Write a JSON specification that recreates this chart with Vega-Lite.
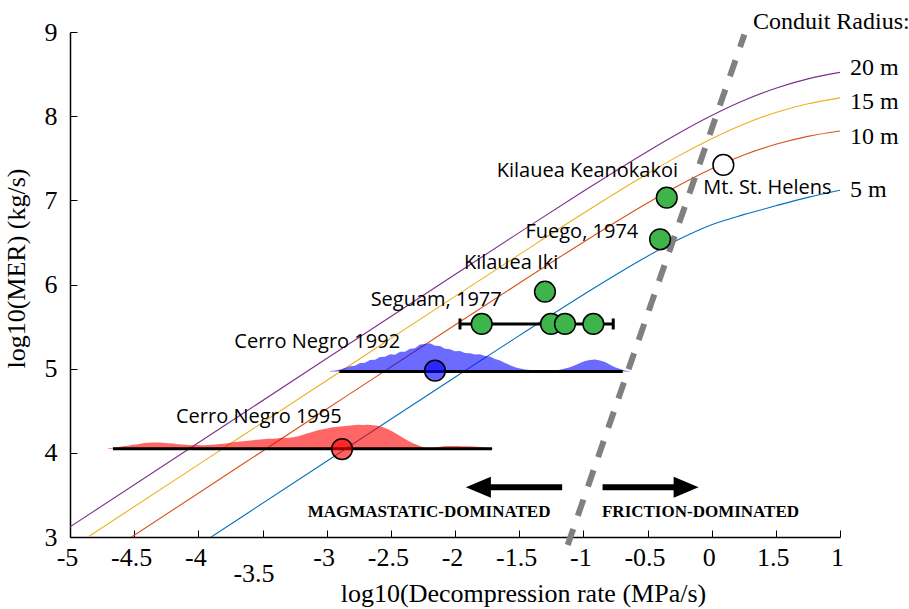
{
  "$schema": "https://vega.github.io/schema/vega-lite/v6.json",
  "width": 770,
  "height": 505,
  "autosize": {"type": "none"},
  "padding": {"left": 70, "top": 32, "right": 69, "bottom": 72},
  "background": "white",
  "config": {
    "view": {"stroke": null},
    "axis": {
      "grid": false,
      "domainColor": "black",
      "domainWidth": 1.5,
      "tickColor": "black",
      "tickWidth": 1,
      "labelColor": "black",
      "titleColor": "black",
      "labelFont": "Liberation Serif",
      "titleFont": "Liberation Serif",
      "labelFontSize": 26,
      "titleFontSize": 26,
      "titleFontWeight": "normal"
    }
  },
  "resolve": {"scale": {"color": "independent"}},
  "datasets": {
    "curves": [
      {"rate": -5.2, "mer": 2.92, "radius": "20 m"}, {"rate": -4, "mer": 4.12, "radius": "20 m"}, {"rate": -3, "mer": 5.12, "radius": "20 m"}, {"rate": -2, "mer": 6.119, "radius": "20 m"}, {"rate": -1.5, "mer": 6.616, "radius": "20 m"}, {"rate": -1, "mer": 7.107, "radius": "20 m"}, {"rate": -0.5, "mer": 7.581, "radius": "20 m"}, {"rate": -0.25, "mer": 7.803, "radius": "20 m"}, {"rate": 0, "mer": 8.007, "radius": "20 m"}, {"rate": 0.25, "mer": 8.185, "radius": "20 m"}, {"rate": 0.5, "mer": 8.332, "radius": "20 m"}, {"rate": 0.75, "mer": 8.443, "radius": "20 m"}, {"rate": 1, "mer": 8.52, "radius": "20 m"},
      {"rate": -5.2, "mer": 2.66, "radius": "15 m"}, {"rate": -4, "mer": 3.86, "radius": "15 m"}, {"rate": -3, "mer": 4.86, "radius": "15 m"}, {"rate": -2, "mer": 5.859, "radius": "15 m"}, {"rate": -1.5, "mer": 6.355, "radius": "15 m"}, {"rate": -1, "mer": 6.846, "radius": "15 m"}, {"rate": -0.5, "mer": 7.316, "radius": "15 m"}, {"rate": -0.25, "mer": 7.534, "radius": "15 m"}, {"rate": 0, "mer": 7.733, "radius": "15 m"}, {"rate": 0.25, "mer": 7.905, "radius": "15 m"}, {"rate": 0.5, "mer": 8.044, "radius": "15 m"}, {"rate": 0.75, "mer": 8.147, "radius": "15 m"}, {"rate": 1, "mer": 8.218, "radius": "15 m"},
      {"rate": -5.2, "mer": 2.32, "radius": "10 m"}, {"rate": -4, "mer": 3.52, "radius": "10 m"}, {"rate": -3, "mer": 4.52, "radius": "10 m"}, {"rate": -2, "mer": 5.518, "radius": "10 m"}, {"rate": -1.5, "mer": 6.015, "radius": "10 m"}, {"rate": -1, "mer": 6.503, "radius": "10 m"}, {"rate": -0.5, "mer": 6.968, "radius": "10 m"}, {"rate": -0.25, "mer": 7.182, "radius": "10 m"}, {"rate": 0, "mer": 7.375, "radius": "10 m"}, {"rate": 0.25, "mer": 7.538, "radius": "10 m"}, {"rate": 0.5, "mer": 7.666, "radius": "10 m"}, {"rate": 0.75, "mer": 7.76, "radius": "10 m"}, {"rate": 1, "mer": 7.823, "radius": "10 m"},
      {"rate": -5.2, "mer": 1.7, "radius": "5 m"}, {"rate": -4, "mer": 2.9, "radius": "5 m"}, {"rate": -3, "mer": 3.9, "radius": "5 m"}, {"rate": -2, "mer": 4.898, "radius": "5 m"}, {"rate": -1.5, "mer": 5.393, "radius": "5 m"}, {"rate": -1, "mer": 5.879, "radius": "5 m"}, {"rate": -0.5, "mer": 6.336, "radius": "5 m"}, {"rate": -0.25, "mer": 6.54, "radius": "5 m"}, {"rate": 0, "mer": 6.71, "radius": "5 m"}, {"rate": 0.25, "mer": 6.83, "radius": "5 m"}, {"rate": 0.5, "mer": 6.935, "radius": "5 m"}, {"rate": 0.75, "mer": 7.035, "radius": "5 m"}, {"rate": 1, "mer": 7.12, "radius": "5 m"}
    ],
    "boundary": [
      {"rate": -1.122, "mer": 2.905},
      {"rate": 0.255, "mer": 8.97}
    ],
    "hist1995": [
      {"rate": -4.704, "mer": 4.053}, {"rate": -4.665, "mer": 4.061}, {"rate": -4.626, "mer": 4.067}, {"rate": -4.587, "mer": 4.079}, {"rate": -4.548, "mer": 4.085}, {"rate": -4.509, "mer": 4.097}, {"rate": -4.47, "mer": 4.102}, {"rate": -4.431, "mer": 4.114}, {"rate": -4.392, "mer": 4.12}, {"rate": -4.353, "mer": 4.124}, {"rate": -4.314, "mer": 4.122}, {"rate": -4.275, "mer": 4.12}, {"rate": -4.236, "mer": 4.114}, {"rate": -4.197, "mer": 4.11}, {"rate": -4.158, "mer": 4.102}, {"rate": -4.12, "mer": 4.098}, {"rate": -4.081, "mer": 4.094}, {"rate": -4.042, "mer": 4.09}, {"rate": -4.003, "mer": 4.092}, {"rate": -3.964, "mer": 4.09}, {"rate": -3.925, "mer": 4.094}, {"rate": -3.886, "mer": 4.097}, {"rate": -3.847, "mer": 4.102}, {"rate": -3.808, "mer": 4.108}, {"rate": -3.769, "mer": 4.114}, {"rate": -3.73, "mer": 4.126}, {"rate": -3.691, "mer": 4.132}, {"rate": -3.652, "mer": 4.138}, {"rate": -3.613, "mer": 4.144}, {"rate": -3.574, "mer": 4.15}, {"rate": -3.535, "mer": 4.156}, {"rate": -3.496, "mer": 4.162}, {"rate": -3.457, "mer": 4.168}, {"rate": -3.418, "mer": 4.166}, {"rate": -3.379, "mer": 4.174}, {"rate": -3.34, "mer": 4.18}, {"rate": -3.301, "mer": 4.176}, {"rate": -3.262, "mer": 4.186}, {"rate": -3.223, "mer": 4.198}, {"rate": -3.184, "mer": 4.215}, {"rate": -3.146, "mer": 4.233}, {"rate": -3.107, "mer": 4.251}, {"rate": -3.068, "mer": 4.269}, {"rate": -3.029, "mer": 4.281}, {"rate": -2.99, "mer": 4.293}, {"rate": -2.951, "mer": 4.304}, {"rate": -2.912, "mer": 4.31}, {"rate": -2.873, "mer": 4.316}, {"rate": -2.834, "mer": 4.322}, {"rate": -2.795, "mer": 4.328}, {"rate": -2.756, "mer": 4.334}, {"rate": -2.717, "mer": 4.331}, {"rate": -2.678, "mer": 4.334}, {"rate": -2.639, "mer": 4.328}, {"rate": -2.6, "mer": 4.322}, {"rate": -2.561, "mer": 4.304}, {"rate": -2.522, "mer": 4.281}, {"rate": -2.483, "mer": 4.251}, {"rate": -2.444, "mer": 4.215}, {"rate": -2.405, "mer": 4.18}, {"rate": -2.366, "mer": 4.144}, {"rate": -2.327, "mer": 4.114}, {"rate": -2.288, "mer": 4.091}, {"rate": -2.249, "mer": 4.067}, {"rate": -2.21, "mer": 4.061}, {"rate": -2.171, "mer": 4.061}, {"rate": -2.132, "mer": 4.067}, {"rate": -2.093, "mer": 4.079}, {"rate": -2.054, "mer": 4.081}, {"rate": -2.015, "mer": 4.081}, {"rate": -1.976, "mer": 4.081}, {"rate": -1.937, "mer": 4.079}, {"rate": -1.898, "mer": 4.079}, {"rate": -1.859, "mer": 4.075}, {"rate": -1.82, "mer": 4.073}, {"rate": -1.781, "mer": 4.067}, {"rate": -1.742, "mer": 4.061}, {"rate": -1.703, "mer": 4.055}
    ],
    "hist1992": [
      {"rate": -2.974, "mer": 4.971}, {"rate": -2.935, "mer": 4.977}, {"rate": -2.896, "mer": 4.989}, {"rate": -2.857, "mer": 5.007}, {"rate": -2.818, "mer": 5.03}, {"rate": -2.779, "mer": 5.036}, {"rate": -2.74, "mer": 5.068}, {"rate": -2.701, "mer": 5.07}, {"rate": -2.662, "mer": 5.104}, {"rate": -2.623, "mer": 5.106}, {"rate": -2.584, "mer": 5.14}, {"rate": -2.545, "mer": 5.141}, {"rate": -2.506, "mer": 5.17}, {"rate": -2.467, "mer": 5.165}, {"rate": -2.428, "mer": 5.2}, {"rate": -2.39, "mer": 5.2}, {"rate": -2.351, "mer": 5.236}, {"rate": -2.312, "mer": 5.244}, {"rate": -2.273, "mer": 5.288}, {"rate": -2.234, "mer": 5.292}, {"rate": -2.195, "mer": 5.302}, {"rate": -2.156, "mer": 5.272}, {"rate": -2.117, "mer": 5.268}, {"rate": -2.078, "mer": 5.238}, {"rate": -2.039, "mer": 5.232}, {"rate": -2.0, "mer": 5.208}, {"rate": -1.961, "mer": 5.21}, {"rate": -1.922, "mer": 5.186}, {"rate": -1.883, "mer": 5.184}, {"rate": -1.844, "mer": 5.168}, {"rate": -1.805, "mer": 5.172}, {"rate": -1.766, "mer": 5.15}, {"rate": -1.727, "mer": 5.146}, {"rate": -1.688, "mer": 5.116}, {"rate": -1.649, "mer": 5.096}, {"rate": -1.61, "mer": 5.066}, {"rate": -1.571, "mer": 5.042}, {"rate": -1.532, "mer": 5.018}, {"rate": -1.493, "mer": 5.001}, {"rate": -1.454, "mer": 4.989}, {"rate": -1.415, "mer": 4.983}, {"rate": -1.376, "mer": 4.979}, {"rate": -1.337, "mer": 4.977}, {"rate": -1.298, "mer": 4.977}, {"rate": -1.259, "mer": 4.977}, {"rate": -1.221, "mer": 4.979}, {"rate": -1.182, "mer": 4.986}, {"rate": -1.143, "mer": 5.001}, {"rate": -1.104, "mer": 5.018}, {"rate": -1.065, "mer": 5.042}, {"rate": -1.026, "mer": 5.066}, {"rate": -0.987, "mer": 5.09}, {"rate": -0.948, "mer": 5.102}, {"rate": -0.909, "mer": 5.108}, {"rate": -0.87, "mer": 5.096}, {"rate": -0.831, "mer": 5.078}, {"rate": -0.792, "mer": 5.048}, {"rate": -0.753, "mer": 5.018}, {"rate": -0.714, "mer": 4.995}, {"rate": -0.675, "mer": 4.979}, {"rate": -0.636, "mer": 4.969}
    ],
    "ranges": [
      {"event": "Cerro Negro 1995", "rate": -4.665, "rate_end": -1.712, "mer": 4.049},
      {"event": "Cerro Negro 1992", "rate": -2.901, "rate_end": -0.693, "mer": 4.965},
      {"event": "Seguam, 1977", "rate": -1.961, "rate_end": -0.767, "mer": 5.531}
    ],
    "caps": [
      {"rate": -1.961, "mer": 5.531},
      {"rate": -0.767, "mer": 5.531}
    ],
    "cerroNegro": [
      {"event": "Cerro Negro 1995", "rate": -2.88, "mer": 4.045},
      {"event": "Cerro Negro 1992", "rate": -2.156, "mer": 4.976}
    ],
    "events": [
      {"event": "Seguam, 1977", "series": "basaltic", "rate": -1.792, "mer": 5.531},
      {"event": "Seguam, 1977", "series": "basaltic", "rate": -1.252, "mer": 5.531},
      {"event": "Seguam, 1977", "series": "basaltic", "rate": -1.143, "mer": 5.531},
      {"event": "Seguam, 1977", "series": "basaltic", "rate": -0.922, "mer": 5.531},
      {"event": "Kilauea Iki", "series": "basaltic", "rate": -1.299, "mer": 5.914},
      {"event": "Fuego, 1974", "series": "basaltic", "rate": -0.402, "mer": 6.537},
      {"event": "Kilauea Keanokakoi", "series": "basaltic", "rate": -0.35, "mer": 7.031},
      {"event": "Mt. St. Helens", "series": "Mt. St. Helens", "rate": 0.091, "mer": 7.42}
    ],
    "shafts": [
      {"regime": "magmastatic", "rate": -1.165, "rate_end": -1.8, "mer": 3.59},
      {"regime": "friction", "rate": -0.85, "rate_end": -0.22, "mer": 3.59}
    ],
    "heads": [
      {"regime": "magmastatic", "dir": "left", "rate": -1.818, "mer": 3.59},
      {"regime": "friction", "dir": "right", "rate": -0.199, "mer": 3.59}
    ],
    "eventLabelsRight": [
      {"label": "Kilauea Keanokakoi", "rate": -0.262, "mer": 7.348},
      {"label": "Fuego, 1974", "rate": -0.572, "mer": 6.624},
      {"label": "Kilauea Iki", "rate": -1.195, "mer": 6.255},
      {"label": "Seguam, 1977", "rate": -1.636, "mer": 5.81},
      {"label": "Cerro Negro 1992", "rate": -2.428, "mer": 5.32},
      {"label": "Cerro Negro 1995", "rate": -2.883, "mer": 4.43}
    ],
    "eventLabelsLeft": [
      {"label": "Mt. St. Helens", "rate": -0.065, "mer": 7.143}
    ],
    "radiusLabels": [
      {"label": "Conduit Radius:", "rate": 0.322, "mer": 9.122},
      {"label": "20 m", "rate": 1.078, "mer": 8.568},
      {"label": "15 m", "rate": 1.078, "mer": 8.172},
      {"label": "10 m", "rate": 1.078, "mer": 7.756},
      {"label": "5 m", "rate": 1.078, "mer": 7.123}
    ],
    "regimeLabels": [
      {"label": "MAGMASTATIC-DOMINATED", "rate": -2.202, "mer": 3.3},
      {"label": "FRICTION-DOMINATED", "rate": -0.087, "mer": 3.3}
    ]
  },
  "encoding": {
    "x": {
      "field": "rate",
      "type": "quantitative",
      "scale": {"domain": [-5, 1], "nice": false, "zero": false},
      "axis": {
        "title": "log10(Decompression rate (MPa/s)",
        "values": [-5, -4.5, -4, -3.5, -3, -2.5, -2, -1.5, -1, -0.5, 0, 0.5, 1],
        "labelExpr": "datum.value == 0.5 ? '1.5' : toString(datum.value)",
        "tickSize": -7,
        "labelPadding": {"condition": {"test": "datum.value == -3.5", "value": 30}, "value": 14},
        "labelOffset": {"condition": {"test": "datum.value == -3.5", "value": -9}, "value": -3},
        "labelFlush": false,
        "titleX": 453,
        "titleY": 64,
        "titleAlign": "center",
        "titleBaseline": "alphabetic"
      }
    },
    "y": {
      "field": "mer",
      "type": "quantitative",
      "scale": {"domain": [3, 9], "nice": false, "zero": false},
      "axis": {
        "title": "log10(MER) (kg/s)",
        "values": [3, 4, 5, 6, 7, 8, 9],
        "tickSize": -7,
        "labelPadding": 20,
        "labelFlush": false,
        "titleX": -46,
        "titleY": 236,
        "titleAlign": "center",
        "titleBaseline": "alphabetic",
        "titleAngle": -90
      }
    }
  },
  "layer": [
    {
      "data": {"name": "curves"},
      "mark": {"type": "line", "clip": true, "strokeWidth": 1.1, "interpolate": "monotone"},
      "encoding": {
        "color": {
          "field": "radius",
          "type": "nominal",
          "scale": {"domain": ["20 m", "15 m", "10 m", "5 m"], "range": ["#7E2F8E", "#EDB120", "#D95319", "#0072BD"]},
          "legend": null
        }
      }
    },
    {
      "data": {"name": "hist1995"},
      "mark": {"type": "area", "color": "#ff0000", "opacity": 0.6},
      "encoding": {"y2": {"datum": 4.049}}
    },
    {
      "data": {"name": "hist1992"},
      "mark": {"type": "area", "color": "#0000ff", "opacity": 0.58},
      "encoding": {"y2": {"datum": 4.965}}
    },
    {
      "data": {"name": "ranges"},
      "mark": {"type": "rule", "color": "black", "strokeWidth": 3},
      "encoding": {"x2": {"field": "rate_end"}}
    },
    {
      "data": {"name": "caps"},
      "mark": {"type": "tick", "orient": "vertical", "color": "black", "size": 11, "thickness": 3, "opacity": 1}
    },
    {
      "data": {"name": "boundary"},
      "mark": {"type": "line", "color": "#808080", "strokeWidth": 6, "strokeDash": [17, 14], "strokeCap": "butt"}
    },
    {
      "data": {"name": "cerroNegro"},
      "mark": {"type": "circle", "size": 430, "stroke": "black", "strokeWidth": 1.5, "fillOpacity": 0.62, "strokeOpacity": 1},
      "encoding": {
        "color": {
          "field": "event",
          "type": "nominal",
          "scale": {"domain": ["Cerro Negro 1992", "Cerro Negro 1995"], "range": ["#0000ff", "#ff0000"]},
          "legend": null
        }
      }
    },
    {
      "data": {"name": "events"},
      "mark": {"type": "circle", "size": 430, "stroke": "black", "strokeWidth": 1.5, "opacity": 1},
      "encoding": {
        "color": {
          "field": "series",
          "type": "nominal",
          "scale": {"domain": ["basaltic", "Mt. St. Helens"], "range": ["#3db54a", "#ffffff"]},
          "legend": null
        }
      }
    },
    {
      "data": {"name": "shafts"},
      "mark": {"type": "rule", "color": "black", "strokeWidth": 6},
      "encoding": {"x2": {"field": "rate_end"}}
    },
    {
      "data": {"name": "heads"},
      "mark": {"type": "point", "filled": true, "color": "black", "size": 625, "opacity": 1, "strokeWidth": 0},
      "encoding": {
        "shape": {
          "field": "dir",
          "type": "nominal",
          "scale": {"domain": ["left", "right"], "range": ["M 1 -0.84 L -1 0 L 1 0.84 Z", "M -1 -0.84 L 1 0 L -1 0.84 Z"]},
          "legend": null
        }
      }
    },
    {
      "data": {"name": "eventLabelsRight"},
      "mark": {"type": "text", "align": "right", "baseline": "middle", "font": "Open Sans", "fontSize": 20, "color": "black"},
      "encoding": {"text": {"field": "label"}}
    },
    {
      "data": {"name": "eventLabelsLeft"},
      "mark": {"type": "text", "align": "left", "baseline": "middle", "font": "Open Sans", "fontSize": 20, "color": "black"},
      "encoding": {"text": {"field": "label"}}
    },
    {
      "data": {"name": "radiusLabels"},
      "mark": {"type": "text", "align": "left", "baseline": "middle", "font": "Liberation Serif", "fontSize": 24, "color": "black"},
      "encoding": {"text": {"field": "label"}}
    },
    {
      "data": {"name": "regimeLabels"},
      "mark": {"type": "text", "align": "center", "baseline": "middle", "font": "Liberation Serif", "fontSize": 17, "fontWeight": "bold", "color": "black"},
      "encoding": {"text": {"field": "label"}}
    }
  ]
}
